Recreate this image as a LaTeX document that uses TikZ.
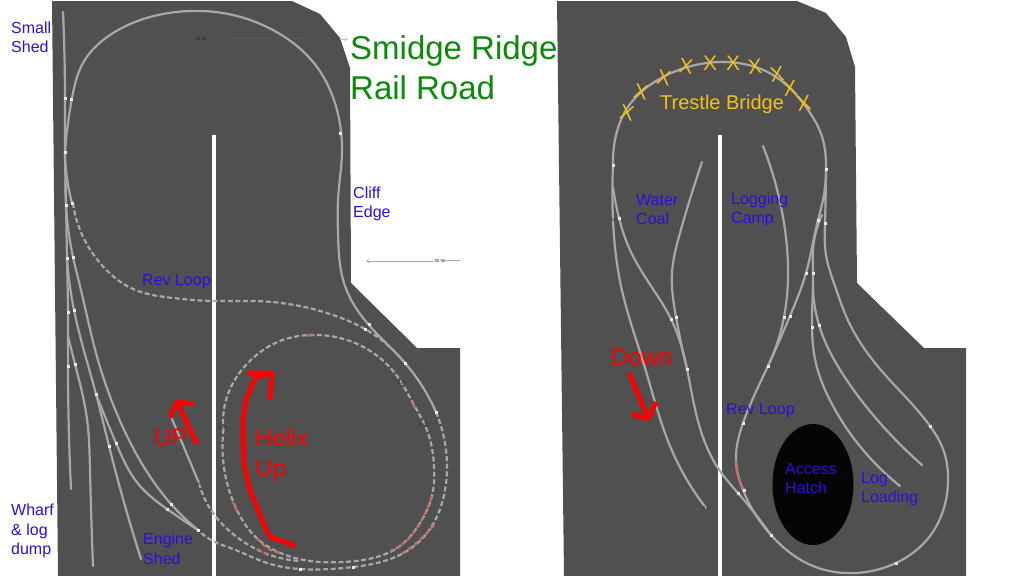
\documentclass[tikz,border=0pt]{standalone}
\usepackage{fontspec}
\setmainfont{Liberation Sans}
\usetikzlibrary{arrows.meta,hobby}
\definecolor{board}{HTML}{505050}
\definecolor{rail}{HTML}{A8A8A8}
\definecolor{bluetxt}{HTML}{2A10DC}
\definecolor{greentxt}{HTML}{0B8A0B}
\definecolor{goldtxt}{HTML}{F2C01E}
\definecolor{pink}{HTML}{C47070}
\tikzset{
  boardshape/.style={fill=board,draw=none},
  track/.style={draw=rail,line width=2.2pt,line cap=round,line join=round,use Hobby shortcut},
  dashtrack/.style={draw=rail,line width=2.2pt,dash pattern=on 5pt off 2.6pt,use Hobby shortcut},
  redtrack/.style={draw=pink,line width=2.2pt,dash pattern=on 5pt off 2.6pt,use Hobby shortcut},
  divider/.style={fill=white,draw=none},
  bluelabel/.style={text=bluetxt,font=\fontsize{16}{19.2}\selectfont,anchor=north west,align=left,inner sep=0pt},
  redlabel/.style={text=red,font=\fontsize{24}{30}\selectfont,anchor=north west,align=left,inner sep=0pt},
  greenlabel/.style={text=greentxt,font=\fontsize{33}{40}\selectfont,anchor=north west,align=left,inner sep=0pt},
  xmark/.style={text=goldtxt,font=\fontsize{21}{21}\selectfont,inner sep=0pt},
  redarrow/.style={draw=red,line width=4.8pt,line join=round},
  tinylabel/.style={text=black!85,font=\fontsize{4.5}{5}\selectfont,inner sep=0pt},
  joint/.style={fill=white!92!black,draw=none,minimum size=3pt,inner sep=0pt,rectangle},
  dimline/.style={line width=0.5pt},
}
\begin{document}
\begin{tikzpicture}[x=1pt,y=-1pt]
\useasboundingbox (0,0) rectangle (1013,576);
\fill[white] (0,0) rectangle (1013,576);
% boards
\path[boardshape] (52,1) -- (292,1) -- (320,14) -- (340,38) -- (350,68) -- (351,283) -- (417,348) -- (460,348) -- (460,576) -- (58,576) -- cycle;
\path[boardshape] (557,1) -- (797,1) -- (826,13) -- (846,37) -- (855,67) -- (857,283) -- (924,348) -- (966,348) -- (966,576) -- (564,576) -- cycle;
\path[divider] (212.2,135) rectangle (215.8,576);
\path[divider] (718.2,135) rectangle (721.8,576);
% dimension lines
\draw[dimline,draw=black!65] (55,37) -- (340,39);
\draw[dimline,draw=black!25,-{Straight Barb[length=3pt,width=4pt]}] (340,39) -- (348,39);
\draw[dimline,draw=black!35,{Straight Barb[length=3pt,width=4pt]}-] (366,261) -- (433,261);
\draw[dimline,draw=black!35] (446,260.5) -- (460,260.5);
\node[tinylabel] (d1) at (201,39) {90.99};
\node[tinylabel] (d2) at (440,261) {30.56};
% left board tracks
\draw[track] (65,152) .. (72,98) .. (83,63) .. (110,35) .. (150,17) .. (190,11) .. (233,15) .. (267,27) .. (317,67) .. (337,110) .. (342,150) .. (338,200) .. (338,233) .. (345,286) .. (368,324) .. (405,363) .. (436,412);
\draw[track] (63,12) .. (65,98) .. (65,152) .. (66,205) .. (67,258) .. (68,312) .. (68,366) .. (71,489);
\draw[track] (67,258) .. (74,310) .. (96,394) .. (109,446) .. (141,559);
\draw[track] (68,336) .. (75,364) .. (87,419) .. (90,470) .. (93,566);
\draw[track] (66,170) .. (73,257) .. (80,286) .. (96,353) .. (127,436) .. (171,504) .. (198,530);
\draw[track] (96,394) .. (116,443) .. (140,486) .. (167,509) .. (198,530);
\draw[track] (172,419) .. (199,483);
\draw[track] (65,152) .. (66,170) .. (72,203);
\draw[dashtrack] (73,203) .. (80,230) .. (100,263) .. (133,289) .. (173,298) .. (213,301) .. (253,301) .. (300,306) .. (333,315) .. (365,329) .. (405,363);
% helix
\draw[dashtrack] (436,412) .. (445,443) .. (447,469) .. (442,503) .. (430,529) .. (407,551) .. (377,563) .. (353,567) .. (300,569) .. (267,563) .. (233,549) .. (213,541) .. (198,530);
\draw[dashtrack] (199,483) .. (213,513) .. (233,534) .. (260,551) .. (300,561);
\draw[dashtrack] (223.5,429) .. (223,459) .. (230,493) .. (240,516) .. (260,541) .. (283,554) .. (310,561) .. (343,562) .. (373,558) .. (400,546) .. (420,523) .. (432,496) .. (434,466) .. (428,433) .. (413,403) .. (397,376) .. (367,349) .. (340,338) .. (310,335) .. (280,341) .. (253,358) .. (233,383) .. (224,409) .. (223.5,429);
\draw[redtrack] (432,496) .. (420,523) .. (400,546) .. (390,551);
\draw[redtrack] (434,525) .. (425,535) .. (400,555);
\draw[redtrack] (257,538) .. (266,547) .. (280,553);
\draw[redtrack] (257,549) .. (270,556);
\draw[pink,line width=2.2pt] (307,335.5) -- (313,335);
\draw[pink,line width=2.2pt] (412,402) -- (415,408);
\draw[pink,line width=2.2pt] (233,502) -- (237,511);
% right board tracks
\draw[track] (613,165) .. (615,140) .. (626,110) .. (663,77) .. (720,62) .. (773,75) .. (806,107) .. (823,140) .. (826,169) .. (823,200) .. (818,220) .. (806,273) .. (790,316) .. (768,366) .. (743,423) .. (736,459) .. (743,490) .. (771,535) .. (813,566) .. (856,573) .. (896,563) .. (930,536) .. (948,483) .. (943,449) .. (930,426) .. (880,369) .. (846,316) .. (835,286) .. (826,255) .. (825,223) .. (826,169);
\draw[track] (613,165) .. (613,220) .. (621,286) .. (645,368) .. (670,446) .. (706,508);
\draw[track] (613,187) .. (619,218) .. (630,250) .. (651,286) .. (671,319) .. (687,369) .. (695,409) .. (720,471) .. (738,493) .. (771,535);
\draw[track] (702,162) .. (680,233) .. (672,273) .. (676,317) .. (687,369);
\draw[track] (763,146) .. (783,217) .. (788,267) .. (784,317) .. (768,366);
\draw[track] (822,215) .. (813,250) .. (813,273) .. (812,327) .. (815,359) .. (833,406) .. (900,486);
\draw[track] (813,286) .. (819,325) .. (846,379) .. (880,423) .. (922,465);
\draw[pink,line width=2.2pt,use Hobby shortcut] (736,461) .. (738,476) .. (744,490);
% access hatch
\fill[black!98] (813,484.5) ellipse [x radius=40.5, y radius=60.5];
% joints
\foreach \p in {(65,98),(71,99),(65,152),(66,205),(72,203),(67,258),(73,257),(68,312),(74,310),(68,366),(75,364),(96,394),(109,446),(116,443),(167,509),(171,504),(198,530),(369,324),(365,329),(405,363),(436,412),(340,133),(300,569),(353,567),(613,165),(826,169),(619,218),(818,220),(825,223),(806,273),(813,273),(671,319),(676,317),(687,369),(784,317),(790,316),(812,327),(819,325),(768,366),(743,423),(744,490),(738,493),(771,535),(896,563),(930,426)}
  \node[joint] at \p {};
% tiny labels
\node[tinylabel] (t1) at (223,428) {3.32};
\node[tinylabel] (t2) at (402,383) {2.67};
\node[tinylabel] (t3) at (423,425) {3.27};
\node[tinylabel] (t4) at (707,508) {9.21};
\node[tinylabel] (t5) at (613,220) {16};
\node[tinylabel] (t6) at (199,484) {M};
% red hand-drawn arrows
\draw[redarrow] (296,546) -- (270,537) -- (264,525) -- (250,490) -- (244,465) -- (243,420) -- (246,400) -- (255,378) -- (269,373);
\draw[redarrow] (247,373) -- (272,373) -- (270,400);
\draw[redarrow] (197,444) -- (177,402);
\draw[redarrow] (170,417) -- (177,402) -- (194,404);
\draw[redarrow] (629,373) -- (648,418);
\draw[redarrow] (632,414) -- (648,419) -- (656,402);
% labels
\node[bluelabel] (n1) at (11,22) {Small\\Shed};
\node[bluelabel] (n2) at (353,187) {Cliff\\Edge};
\node[bluelabel] (n3) at (142,274) {Rev Loop};
\node[bluelabel] (n4) at (11,504) {Wharf\\\& log\\dump};
\node[bluelabel] (n5) at (143,533) {Engine\\Shed};
\node[bluelabel] (n6) at (636,194) {Water\\Coal};
\node[bluelabel] (n7) at (731,193) {Logging\\Camp};
\node[bluelabel] (n8) at (726,403) {Rev Loop};
\node[bluelabel] (n9) at (785,463) {Access\\Hatch};
\node[bluelabel] (n10) at (861,472) {Log\\Loading};
\node[greenlabel] (g1) at (350,35) {Smidge Ridge\\Rail Road};
\node[redlabel] (r1) at (154,429) {UP};
\node[redlabel] (r2) at (255,429) {Helix\\Up};
\node[redlabel] (r3) at (611,349) {Down};
\node[text=goldtxt,font=\fontsize{20}{24}\selectfont,anchor=north west,inner sep=0pt] (y1) at (660,95) {Trestle Bridge};
\node[xmark,rotate=-12] at (627,113) {X};
\node[xmark,rotate=-12] at (641,92) {X};
\node[xmark,rotate=-12] at (664,78) {X};
\node[xmark,rotate=-8] at (686,66) {X};
\node[xmark] at (710,63) {X};
\node[xmark] at (733,63) {X};
\node[xmark,rotate=5] at (755,67) {X};
\node[xmark,rotate=8] at (777,74) {X};
\node[xmark,rotate=8] at (790,88) {X};
\node[xmark,rotate=8] at (804,103) {X};
\end{tikzpicture}
\end{document}
